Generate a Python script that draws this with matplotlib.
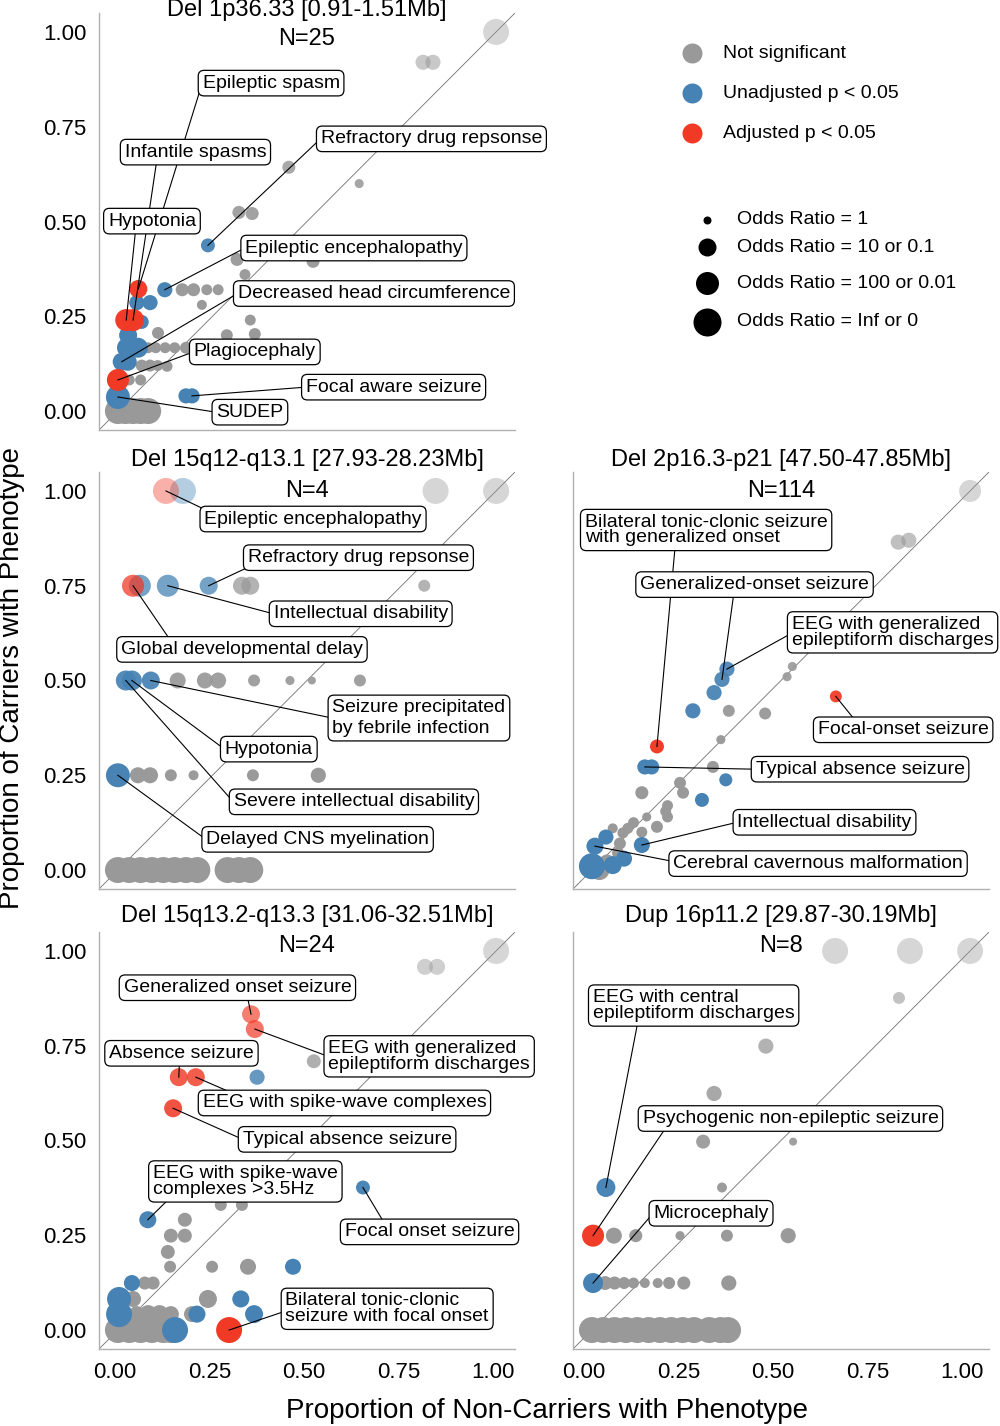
import numpy as np
import matplotlib.pyplot as plt
from matplotlib.transforms import ScaledTranslation

plt.rcParams['font.family'] = ['Liberation Sans', 'DejaVu Sans']

SIG_COLORS = ['#999999', '#4682B4', '#F03A26']
SIG_NAMES = ['Not significant', 'Unadjusted p < 0.05', 'Adjusted p < 0.05']
OR_NAMES = ['Odds Ratio = 1', 'Odds Ratio = 10 or 0.1',
            'Odds Ratio = 100 or 0.01', 'Odds Ratio = Inf or 0']
OR_LOR = [0, 1, 2, np.inf]

TITLES = ['Del 1p36.33 [0.91-1.51Mb]', 'Del 15q12-q13.1 [27.93-28.23Mb]',
          'Del 2p16.3-p21 [47.50-47.85Mb]', 'Del 15q13.2-q13.3 [31.06-32.51Mb]',
          'Dup 16p11.2 [29.87-30.19Mb]']
N_TEXT = ['N=25', 'N=4', 'N=114', 'N=24', 'N=8']

# x = proportion of non-carriers, y = proportion of carriers,
# sig: 0 not significant, 1 unadjusted p<0.05, 2 adjusted p<0.05
# lor: |log10 odds ratio|
# the first len(Px_LABELS) points are the labelled ones, in label order

# Del 1p36.33
P1_LABELS = ['Epileptic spasm', 'Infantile spasms', 'Hypotonia',
             'Refractory drug repsonse', 'Epileptic encephalopathy',
             'Decreased head circumference', 'Plagiocephaly',
             'Focal aware seizure', 'SUDEP']
P1_X = [0.054, 0.04, 0.022, 0.238, 0.124, 0.01, 0.0, 0.196, 0.0,
        1.0, 0.807, 0.833, 0.452, 0.638, 0.32, 0.355, 0.315, 0.516, 0.336,
        0.17, 0.2, 0.235, 0.265, 0.05, 0.085, 0.222, 0.063, 0.35,
        0.027, 0.106, 0.288, 0.362, 0.024, 0.053, 0.08, 0.1, 0.125, 0.15, 0.18,
        0.026, 0.063, 0.085, 0.105, 0.13, 0.03, 0.06, 0.18,
        0.0, 0.02, 0.04, 0.06, 0.08]
P1_Y = [0.322, 0.24, 0.24, 0.437, 0.32, 0.13, 0.082, 0.04, 0.037,
        1.0, 0.92, 0.92, 0.643, 0.60, 0.524, 0.521, 0.40, 0.395, 0.36,
        0.32, 0.32, 0.32, 0.32, 0.286, 0.286, 0.28, 0.235, 0.24,
        0.20, 0.206, 0.20, 0.203, 0.167, 0.167, 0.167, 0.167, 0.167, 0.167, 0.167,
        0.13, 0.12, 0.12, 0.12, 0.118, 0.082, 0.082, 0.04,
        0.0, 0.0, 0.0, 0.0, 0.0]
P1_SIG = [2, 2, 2, 1, 1, 1, 2, 1, 1,
          0, 0, 0, 0, 0, 0, 0, 0, 0, 0,
          0, 0, 0, 0, 1, 1, 0, 1, 0,
          1, 0, 0, 0, 1, 1, 0, 0, 0, 0, 0,
          1, 0, 0, 0, 0, 0, 0, 1,
          0, 0, 0, 0, 0]
P1_LOR = [1.0, 1.74, 1.74, 0.51, 0.64, 1.0, 1.74, 0.64, 2.3,
          3.3, 0.64, 0.64, 0.42, 0.08, 0.42, 0.42, 0.42, 0.42, 0.23,
          0.42, 0.42, 0.23, 0.23, 0.64, 0.64, 0.15, 0.51, 0.23,
          1.0, 0.32, 0.32, 0.32, 1.32, 1.32, 0.23, 0.23, 0.23, 0.23, 0.32,
          1.0, 0.32, 0.32, 0.23, 0.23, 0.23, 0.23, 0.64,
          3.3, 3.3, 3.3, 3.3, 3.3]

# Del 15q12-q13.1
P2_LABELS = ['Epileptic encephalopathy', 'Refractory drug repsonse',
             'Intellectual disability', 'Global developmental delay',
             'Seizure precipitated\nby febrile infection', 'Hypotonia',
             'Severe intellectual disability', 'Delayed CNS myelination']
P2_X = [0.127, 0.24, 0.132, 0.04, 0.087, 0.037, 0.021, 0.0,
        0.172, 0.84, 1.0, 0.058, 0.328, 0.35, 0.81,
        0.158, 0.23, 0.265, 0.36, 0.455, 0.513, 0.64,
        0.053, 0.085, 0.14, 0.2, 0.357, 0.53,
        0.0, 0.03, 0.06, 0.09, 0.12, 0.15, 0.18, 0.21, 0.29, 0.32, 0.35]
P2_Y = [1.0, 0.75, 0.75, 0.75, 0.5, 0.5, 0.5, 0.25,
        1.0, 1.0, 1.0, 0.75, 0.75, 0.75, 0.75,
        0.5, 0.5, 0.5, 0.5, 0.5, 0.5, 0.5,
        0.25, 0.25, 0.25, 0.25, 0.25, 0.25,
        0.0, 0.0, 0.0, 0.0, 0.0, 0.0, 0.0, 0.0, 0.0, 0.0, 0.0]
P2_SIG = [2, 1, 1, 2, 1, 1, 1, 1,
          1, 0, 0, 1, 0, 0, 0,
          0, 0, 0, 0, 0, 0, 0,
          0, 0, 0, 0, 0, 0,
          0, 0, 0, 0, 0, 0, 0, 0, 0, 0, 0]
P2_LOR = [3.3, 1.0, 1.74, 1.74, 1.0, 1.32, 1.32, 2.3,
          3.3, 3.3, 3.3, 1.74, 1.0, 1.0, 0.32,
          0.74, 0.74, 0.74, 0.32, 0.08, 0.0, 0.32,
          0.74, 0.74, 0.32, 0.15, 0.32, 0.64,
          3.3, 3.3, 3.3, 3.3, 3.3, 3.3, 3.3, 3.3, 3.3, 3.3, 3.3]

# Del 2p16.3-p21
P3_LABELS = ['Bilateral tonic-clonic seizure\nwith generalized onset',
             'Generalized-onset seizure',
             'EEG with generalized\nepileptiform discharges',
             'Focal-onset seizure', 'Typical absence seizure',
             'Intellectual disability', 'Cerebral cavernous malformation']
P3_X = [0.172, 0.344, 0.357, 0.645, 0.14, 0.132, 0.008,
        1.0, 0.81, 0.838, 0.53, 0.516, 0.323, 0.267, 0.362, 0.458, 0.341,
        0.158, 0.32, 0.354, 0.233, 0.241, 0.132, 0.291,
        0.2, 0.195, 0.2, 0.145, 0.172, 0.11, 0.095, 0.082, 0.055, 0.132,
        0.074, 0.069, 0.02, 0.04,
        0.037, 0.085, 0.055, 0.0]
P3_Y = [0.326, 0.503, 0.53, 0.458, 0.272, 0.066, 0.063,
        1.0, 0.865, 0.87, 0.537, 0.51, 0.468, 0.42, 0.42, 0.413, 0.344,
        0.272, 0.272, 0.238, 0.23, 0.204, 0.204, 0.185,
        0.17, 0.155, 0.14, 0.14, 0.114, 0.125, 0.11, 0.098, 0.11, 0.10,
        0.07, 0.045, 0.0, 0.02,
        0.087, 0.03, 0.013, 0.01]
P3_SIG = [2, 1, 1, 2, 1, 1, 1,
          0, 0, 0, 0, 0, 1, 1, 0, 0, 0,
          1, 0, 1, 0, 0, 0, 1,
          0, 0, 0, 0, 0, 0, 0, 0, 0, 0,
          0, 0, 0, 0,
          1, 1, 1, 1]
P3_LOR = [0.51, 0.64, 0.64, 0.32, 0.64, 0.74, 0.87,
          1.74, 0.64, 0.64, 0.08, 0.08, 0.64, 0.64, 0.32, 0.32, 0.08,
          0.64, 0.32, 0.42, 0.32, 0.32, 0.42, 0.51,
          0.23, 0.23, 0.23, 0.08, 0.32, 0.23, 0.23, 0.23, 0.15, 0.23,
          0.32, 0.32, 1.32, 0.74,
          0.64, 0.74, 1.0, 3.3]

# Del 15q13.2-q13.3
P4_LABELS = ['Generalized onset seizure',
             'EEG with generalized\nepileptiform discharges',
             'Absence seizure', 'EEG with spike-wave complexes',
             'Typical absence seizure',
             'EEG with spike-wave\ncomplexes >3.5Hz', 'Focal onset seizure',
             'Bilateral tonic-clonic\nseizure with focal onset']
P4_X = [0.352, 0.362, 0.161, 0.206, 0.146, 0.079, 0.648, 0.294,
        1.0, 0.812, 0.844, 0.518, 0.368, 0.272, 0.328,
        0.177, 0.14, 0.177, 0.132, 0.138, 0.249, 0.344, 0.463,
        0.037, 0.071, 0.093, 0.003, 0.04, 0.238, 0.325,
        0.003, 0.05, 0.08, 0.11, 0.14, 0.196, 0.209, 0.36, 0.151,
        0.0, 0.03, 0.06, 0.09, 0.12, 0.14]
P4_Y = [0.833, 0.794, 0.667, 0.667, 0.585, 0.291, 0.376, 0.0,
        1.0, 0.958, 0.958, 0.709, 0.667, 0.33, 0.33,
        0.291, 0.249, 0.249, 0.206, 0.167, 0.167, 0.167, 0.167,
        0.124, 0.124, 0.124, 0.082, 0.082, 0.082, 0.082,
        0.042, 0.042, 0.042, 0.042, 0.042, 0.042, 0.042, 0.042, 0.0,
        0.0, 0.0, 0.0, 0.0, 0.0, 0.0]
P4_SIG = [2, 2, 2, 2, 2, 1, 1, 2,
          0, 0, 0, 0, 1, 0, 0,
          0, 0, 0, 0, 0, 0, 0, 1,
          1, 0, 0, 1, 0, 0, 1,
          1, 0, 0, 0, 0, 0, 1, 1, 1,
          0, 0, 0, 0, 0, 0]
P4_LOR = [1.0, 1.0, 1.0, 1.0, 1.0, 0.87, 0.51, 3.3,
          3.3, 0.74, 0.74, 0.51, 0.64, 0.32, 0.32,
          0.51, 0.51, 0.51, 0.51, 0.32, 0.32, 0.74, 0.74,
          0.74, 0.42, 0.42, 2.3, 0.74, 1.0, 0.87,
          3.3, 0.74, 1.0, 1.0, 0.74, 0.74, 0.87, 1.0, 3.3,
          3.3, 3.3, 3.3, 3.3, 3.3, 3.3]

# Dup 16p11.2
P5_LABELS = ['EEG with central\nepileptiform discharges',
             'Psychogenic non-epileptic seizure', 'Microcephaly']
P5_X = [0.037, 0.003, 0.003,
        0.643, 0.841, 1.0, 0.812, 0.46, 0.323, 0.294, 0.532, 0.344,
        0.058, 0.116, 0.233, 0.357, 0.519,
        0.035, 0.06, 0.085, 0.11, 0.14, 0.174, 0.204, 0.243, 0.362,
        0.0, 0.03, 0.06, 0.09, 0.12, 0.15, 0.18, 0.21, 0.24, 0.27, 0.31, 0.34, 0.36]
P5_Y = [0.376, 0.249, 0.124,
        1.0, 1.0, 1.0, 0.876, 0.749, 0.624, 0.497, 0.497, 0.376,
        0.249, 0.249, 0.249, 0.249, 0.249,
        0.124, 0.124, 0.124, 0.124, 0.124, 0.124, 0.124, 0.124, 0.124,
        0.0, 0.0, 0.0, 0.0, 0.0, 0.0, 0.0, 0.0, 0.0, 0.0, 0.0, 0.0, 0.0]
P5_SIG = [1, 2, 1,
          0, 0, 0, 0, 0, 0, 0, 0, 0,
          0, 0, 0, 0, 0,
          0, 0, 0, 0, 0, 0, 0, 0, 0,
          0, 0, 0, 0, 0, 0, 0, 0, 0, 0, 0, 0, 0]
P5_LOR = [1.15, 1.74, 1.32,
          3.3, 3.3, 3.3, 0.32, 0.64, 0.64, 0.51, 0.0, 0.15,
          0.74, 0.42, 0.08, 0.32, 0.64,
          0.51, 0.42, 0.32, 0.23, 0.15, 0.15, 0.32, 0.42, 0.64,
          3.3, 3.3, 3.3, 3.3, 3.3, 3.3, 3.3, 3.3, 3.3, 3.3, 3.3, 3.3, 3.3]

PANELS = [
    (P1_X, P1_Y, P1_SIG, P1_LOR, P1_LABELS),
    (P2_X, P2_Y, P2_SIG, P2_LOR, P2_LABELS),
    (P3_X, P3_Y, P3_SIG, P3_LOR, P3_LABELS),
    (P4_X, P4_Y, P4_SIG, P4_LOR, P4_LABELS),
    (P5_X, P5_Y, P5_SIG, P5_LOR, P5_LABELS),
]

# ---- layout (pixels / data coords for label boxes) ----
W, H = 1000, 1426
AX_PIX = [(99, 13), (99, 472), (573, 472), (99, 932), (573, 932)]
AX_W, AX_H = 416, 417
XLAB_SHIFT = [-3, -3, -8, -3, -8]
TITLE_Y = [(1.007, 0.938), (1.029, 0.954), (1.029, 0.954),
           (1.038, 0.966), (1.038, 0.966)]
BOX_POS = [
    [(0.405, 0.865), (0.205, 0.683), (0.09, 0.501), (0.829, 0.718),
     (0.624, 0.43), (0.677, 0.31), (0.362, 0.156), (0.729, 0.063),
     (0.349, -0.003)],
    [(0.516, 0.926), (0.636, 0.824), (0.642, 0.676), (0.328, 0.582),
     (0.796, 0.401), (0.399, 0.319), (0.624, 0.18), (0.528, 0.081)],
    [(0.302, 0.897), (0.43, 0.753), (0.795, 0.627), (0.823, 0.37),
     (0.709, 0.266), (0.615, 0.126), (0.598, 0.017)],
    [(0.316, 0.903), (0.823, 0.722), (0.168, 0.73), (0.599, 0.599),
     (0.606, 0.503), (0.337, 0.392), (0.824, 0.259), (0.712, 0.056)],
    [(0.269, 0.856), (0.525, 0.558), (0.315, 0.308)],
]
SEG_PULL = 0.4  # how far the segment end moves from the point toward the box centre


def diam(lor):
    # marker diameter in pixels from |log10 OR|
    return 8 + 20 * (1 - 0.5 ** np.asarray(lor, dtype=float))


def msize(lor):
    return (0.72 * diam(lor)) ** 2


fig = plt.figure(figsize=(W / 100, H / 100), dpi=100)

pending = []  # (ax, text artist, point x, point y)
for k, (xs, ys, sig, lor, labels) in enumerate(PANELS):
    x0, top = AX_PIX[k]
    ax = fig.add_axes([x0 / W, 1 - (top + AX_H) / H, AX_W / W, AX_H / H])
    xs = np.array(xs)
    ys = np.array(ys)
    sig = np.array(sig)
    lor = np.array(lor)

    ax.plot([-0.05, 1.05], [-0.05, 1.05], color='#707070', lw=0.6, zorder=1)

    order = np.argsort(sig, kind='stable')
    cols = [SIG_COLORS[s] for s in sig[order]]
    alphas = 1 - 0.6 * ys[order] ** 3
    ax.scatter(xs[order], ys[order], s=msize(lor[order]), c=cols,
               alpha=alphas, linewidths=0, zorder=2)

    for i, txt in enumerate(labels):
        bx, by = BOX_POS[k][i]
        ls = 1.25 if txt.startswith('Seizure precipitated') else 0.9
        t = ax.text(bx, by, txt, ha='center', va='center', fontsize=14,
                    linespacing=ls, multialignment='left', zorder=4,
                    bbox=dict(boxstyle='round,pad=0.22,rounding_size=0.3',
                              fc='white', ec='black', lw=0.9))
        pending.append((ax, t, xs[i], ys[i]))

    ax.text(0.5, TITLE_Y[k][0], TITLES[k], transform=ax.transAxes,
            ha='center', va='center', fontsize=17, zorder=6)
    ax.text(0.5, TITLE_Y[k][1], N_TEXT[k], transform=ax.transAxes,
            ha='center', va='center', fontsize=17, zorder=6)

    ax.set_xlim(-0.05, 1.05)
    ax.set_ylim(-0.05, 1.05)
    ticks = [0, 0.25, 0.5, 0.75, 1.0]
    ax.set_xticks(ticks)
    ax.set_yticks(ticks)
    ax.set_xticklabels(['%.2f' % t for t in ticks])
    ax.set_yticklabels(['%.2f' % t for t in ticks])
    ax.tick_params(length=0, labelsize=16, pad=9)
    shift = ScaledTranslation(XLAB_SHIFT[k] / 100, 0, fig.dpi_scale_trans)
    for lab in ax.get_xticklabels():
        lab.set_transform(lab.get_transform() + shift)
    if k in (2, 4):
        ax.tick_params(axis='y', labelleft=False)
    if k in (0, 1, 2):
        ax.tick_params(axis='x', labelbottom=False)
    ax.spines['top'].set_visible(False)
    ax.spines['right'].set_visible(False)
    for s in ('left', 'bottom'):
        ax.spines[s].set_color('#b0b0b0')
        ax.spines[s].set_linewidth(1.0)
    ax.set_facecolor('none')

# connector segments, drawn under the label boxes
fig.canvas.draw()
for ax, t, px, py in pending:
    bb = t.get_bbox_patch().get_window_extent()
    dx, dy = ax.transData.transform((px, py))
    cx, cy = (bb.x0 + bb.x1) / 2, (bb.y0 + bb.y1) / 2
    tx = min(max(dx + SEG_PULL * (cx - dx), bb.x0 + 4), bb.x1 - 4)
    ex, ey = ax.transData.inverted().transform((tx, cy))
    ax.plot([ex, px], [ey, py], color='black', lw=0.8, zorder=3,
            clip_on=False)

# legend area (pixel coordinates)
lax = fig.add_axes([573 / W, 1 - 430 / H, 427 / W, 430 / H])
lax.set_xlim(573, 1000)
lax.set_ylim(430, 0)
lax.axis('off')
for i, name in enumerate(SIG_NAMES):
    yy = 53 + 40 * i
    lax.scatter([692], [yy], s=(0.72 * 20) ** 2, c=SIG_COLORS[i], linewidths=0)
    lax.text(723, yy, name, fontsize=14, va='center', ha='left')
for i, (name, yy) in enumerate(zip(OR_NAMES, [220, 247, 283, 322])):
    lax.scatter([707], [yy], s=msize(OR_LOR[i]), c='black', linewidths=0)
    lax.text(737, yy, name, fontsize=14, va='center', ha='left')

fig.text(12 / W, 1 - 678 / H, 'Proportion of Carriers with Phenotype',
         rotation=90, ha='center', va='center', fontsize=20)
fig.text(547 / W, 1 - 1411 / H, 'Proportion of Non-Carriers with Phenotype',
         ha='center', va='center', fontsize=20)

fig.savefig('out.png', dpi=100)
